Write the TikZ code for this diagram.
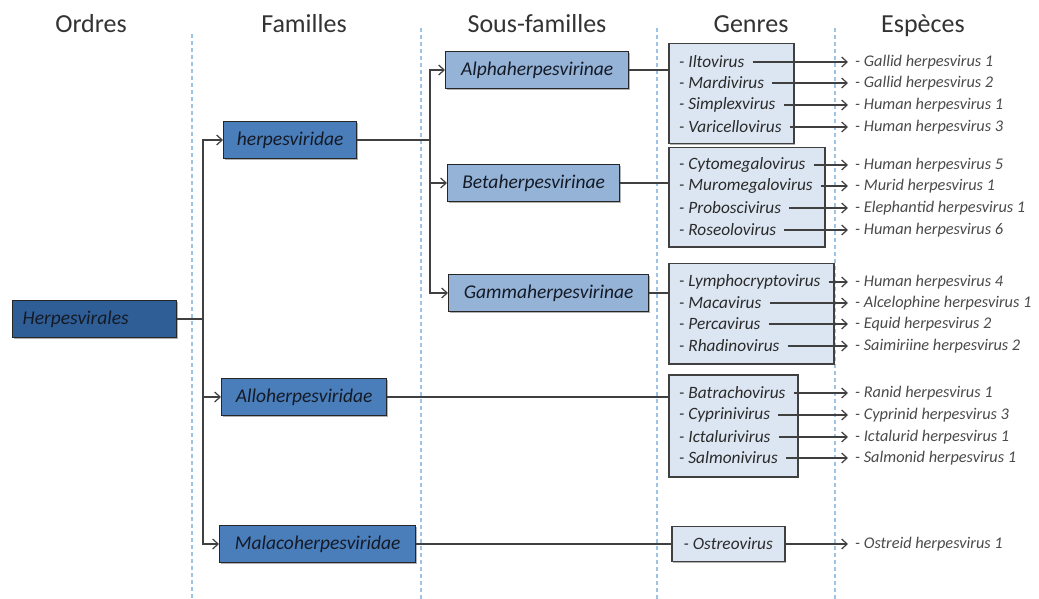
\documentclass[tikz,border=0pt]{standalone}
\usepackage{fontspec}
\setmainfont{Carlito}
\usetikzlibrary{arrows.meta,shadows}

\definecolor{ordfill}{HTML}{2F5E97}
\definecolor{famfill}{HTML}{4A7EBB}
\definecolor{subfill}{HTML}{95B3D7}
\definecolor{genfill}{HTML}{DCE6F2}
\definecolor{edge}{HTML}{262626}
\definecolor{wire}{HTML}{404040}
\definecolor{guide}{HTML}{9DC3E6}
\definecolor{inktext}{HTML}{141A26}
\definecolor{gentextc}{HTML}{2A2A2A}
\definecolor{sptextc}{HTML}{4A4A4A}

\newcommand{\headfont}{\fontsize{26bp}{30bp}\selectfont}
\newcommand{\boxfont}{\fontsize{19.5bp}{23bp}\selectfont\itshape}
\newcommand{\genfont}{\fontsize{17.3bp}{20bp}\selectfont\itshape}
\newcommand{\spfont}{\fontsize{16.3bp}{19bp}\selectfont\itshape}

\tikzset{
  shade box/.style={drop shadow={shadow xshift=1.2bp, shadow yshift=-1.2bp, opacity=0.3, fill=black}},
  taxbox/.style={draw=edge, line width=1.3bp, anchor=west, minimum height=37bp,
                 inner xsep=8bp, inner ysep=0pt, font=\boxfont, text=inktext, shade box},
  ordbox/.style={taxbox, fill=ordfill, text width=144bp, align=left, inner xsep=10bp},
  fambox/.style={taxbox, fill=famfill},
  subbox/.style={taxbox, fill=subfill},
  genbox/.style={draw=wire, line width=1.5bp, fill=genfill, inner sep=0pt, shade box},
  gentext/.style={anchor=west, inner sep=1bp, font=\genfont, text=gentextc},
  sptext/.style={anchor=west, inner xsep=7bp, inner ysep=1bp, font=\spfont, text=sptextc},
  header/.style={anchor=base, font=\headfont, text=black!80},
  conn/.style={draw=wire, line width=1.5bp},
  arr/.style={-{Straight Barb[length=5.5bp,width=10bp,line width=1.2bp]}},
  guideline/.style={draw=guide, line width=2bp, dash pattern=on 4bp off 3bp},
}

\begin{document}
\begin{tikzpicture}[x=1bp,y=-1bp]
  \useasboundingbox[fill=white] (0,0) rectangle (1039,599);

  % column headers
  \node[header] (hOrd) at (91,33) {Ordres};
  \node[header] (hFam) at (304,33) {Familles};
  \node[header] (hSub) at (537,33) {Sous-familles};
  \node[header] (hGen) at (751,33) {Genres};
  \node[header] (hEsp) at (923,33) {Espèces};

  % column separators
  \draw[guideline] (192,34) -- (192,599);
  \draw[guideline] (421,28) -- (421,599);
  \draw[guideline] (657,28) -- (657,599);
  \draw[guideline] (835,28) -- (835,599);

  % order
  \node[ordbox] (ord) at (12,319) {Herpesvirales};

  % families
  \node[fambox, minimum width=133bp] (fam1) at (223,140) {herpesviridae};
  \node[fambox, minimum width=165bp] (fam2) at (221,397) {Alloherpesviridae};
  \node[fambox, minimum width=196bp] (fam3) at (219,544) {Malacoherpesviridae};

  % sub-families
  \node[subbox, minimum width=183bp] (sub1) at (445,70) {Alphaherpesvirinae};
  \node[subbox, minimum width=172bp] (sub2) at (447,183) {Betaherpesvirinae};
  \node[subbox, minimum width=200bp] (sub3) at (448,293) {Gammaherpesvirinae};

  % genus groups
  \node[genbox, anchor=north west, minimum width=125bp, minimum height=100bp] (gA) at (668,43) {};
  \node[genbox, anchor=north west, minimum width=156bp, minimum height=99bp] (gB) at (668,147) {};
  \node[genbox, anchor=north west, minimum width=165bp, minimum height=100bp] (gG) at (668,263) {};
  \node[genbox, anchor=north west, minimum width=129bp, minimum height=102bp] (gL) at (668,374) {};
  \node[genbox, anchor=west, minimum width=113bp, minimum height=35bp, font=\genfont, text=gentextc] (gO) at (671,544) {- Ostreovirus};

  % order -> families
  \coordinate (t) at (203,319);
  \draw[conn] (ord.east) -- (t);
  \draw[conn, arr] (t) |- (fam1.west);
  \draw[conn, arr] (t) |- (fam2.west);
  \draw[conn, arr] (t) |- (fam3.west);

  % herpesviridae -> sub-families
  \coordinate (u) at (430,140);
  \draw[conn] (fam1.east) -- (u);
  \draw[conn, arr] (u) |- (sub1.west);
  \draw[conn, arr] (u) |- (sub2.west);
  \draw[conn, arr] (u) |- (sub3.west);

  % sub-families / families -> genus groups
  \draw[conn] (sub1.east) -- (sub1.east -| gA.west);
  \draw[conn] (sub2.east) -- (sub2.east -| gB.west);
  \draw[conn] (sub3.east) -- (sub3.east -| gG.west);
  \draw[conn] (fam2.east) -- (fam2.east -| gL.west);
  \draw[conn] (fam3.east) -- (fam3.east -| gO.west);

  % genera -> species
  \foreach \n/\y/\gname/\sname in {
      1/62/Iltovirus/Gallid herpesvirus 1,
      2/83/Mardivirus/Gallid herpesvirus 2,
      3/105/Simplexvirus/Human herpesvirus 1,
      4/127/Varicellovirus/Human herpesvirus 3,
      5/165/Cytomegalovirus/Human herpesvirus 5,
      6/186/Muromegalovirus/Murid herpesvirus 1,
      7/208/Proboscivirus/Elephantid herpesvirus 1,
      8/230/Roseolovirus/Human herpesvirus 6,
      9/282/Lymphocryptovirus/Human herpesvirus 4,
      10/303/Macavirus/Alcelophine herpesvirus 1,
      11/324/Percavirus/Equid herpesvirus 2,
      12/346/Rhadinovirus/Saimiriine herpesvirus 2,
      13/393/Batrachovirus/Ranid herpesvirus 1,
      14/415/Cyprinivirus/Cyprinid herpesvirus 3,
      15/437/Ictalurivirus/Ictalurid herpesvirus 1,
      16/458/Salmonivirus/Salmonid herpesvirus 1}
  {
    \node[gentext] (g\n) at (678,\y) {- \gname};
    \node[sptext] (s\n) at (848,\y) {- \sname};
    \draw[conn, arr] ([xshift=7bp]g\n.east) -- (s\n.west);
  }

  \node[sptext] (s17) at (848,544) {- Ostreid herpesvirus 1};
  \draw[conn, arr] (gO.east) -- (s17.west);
\end{tikzpicture}
\end{document}
